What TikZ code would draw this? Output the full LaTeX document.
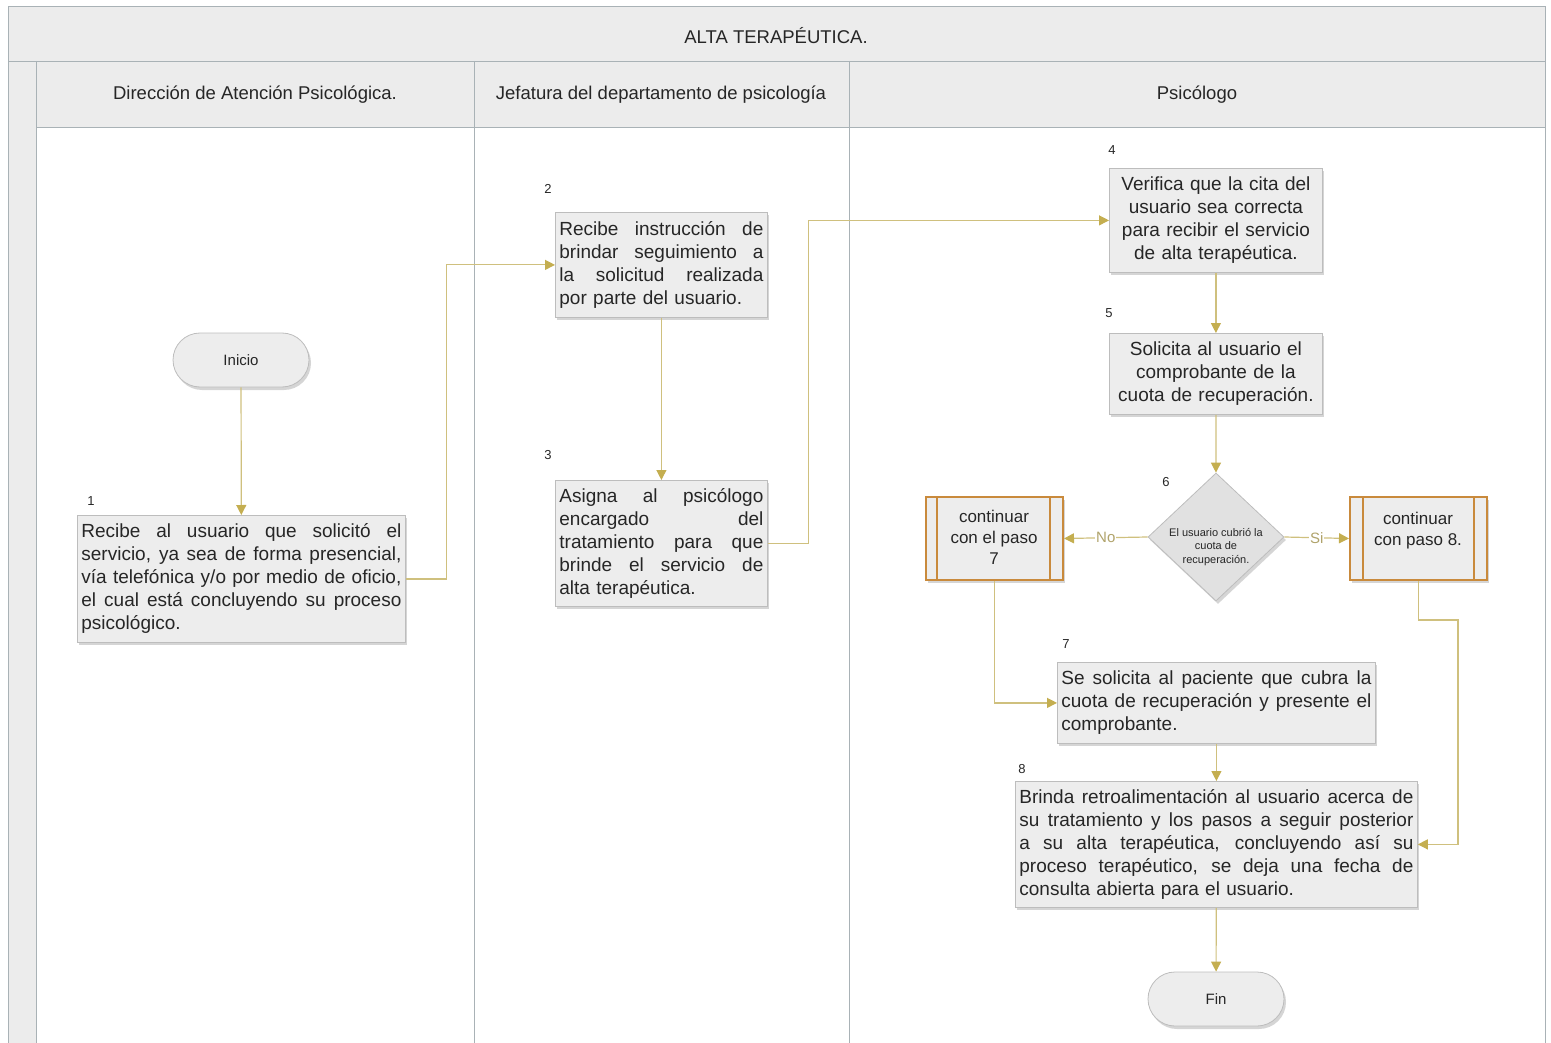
\documentclass[tikz,border=0pt]{standalone}
\usepackage{fontspec}
\setmainfont{Liberation Sans}
\usetikzlibrary{shapes.geometric,arrows.meta,shadows}
\definecolor{lnc}{HTML}{CFC07E}
\definecolor{tipc}{HTML}{C4AE50}
\definecolor{boxf}{HTML}{EDEDED}
\definecolor{boxd}{HTML}{BDBDBD}
\definecolor{hdrf}{HTML}{ECECEC}
\definecolor{laneln}{HTML}{A9B2B6}
\definecolor{orb}{HTML}{C98A3C}
\definecolor{txt}{HTML}{262626}
\newcommand\jl[1]{\makebox[\hsize][s]{\spaceskip=0pt\xspaceskip=0pt #1}\\}
\begin{document}
\begin{tikzpicture}[x=1pt,y=-1pt,
  shd/.style={drop shadow={shadow xshift=2pt,shadow yshift=-3pt,fill=black!30,opacity=.55}},
  box/.style={draw=boxd, fill=boxf, line width=0.8pt, shd, inner xsep=4pt, inner ysep=0pt,
    anchor=north west, text=txt, font=\fontsize{19}{23}\selectfont},
  jbox/.style={box, align=left},
  cbox/.style={box, align=center},
  term/.style={draw=boxd, fill=boxf, line width=0.8pt, rounded corners=27pt, minimum width=136pt,
    minimum height=54pt, shd, text=txt, font=\fontsize{15}{18}\selectfont},
  num/.style={font=\fontsize{13}{15}\selectfont, text=txt, inner sep=0pt},
  hdr/.style={font=\fontsize{18.5}{22}\selectfont, text=txt, inner sep=0pt},
  pbox/.style={draw=orb, fill=boxf, line width=2pt, minimum width=137pt, minimum height=83pt,
    anchor=north west, shd},
  ptxt/.style={align=center, text=txt, font=\fontsize{17}{21}\selectfont, inner sep=0pt},
  flow/.style={draw=lnc, line width=1.2pt, -{Triangle[length=10pt,width=10pt,color=tipc]}},
  lbl/.style={fill=white, text=lnc!85!black, font=\fontsize{15}{18}\selectfont, inner sep=1pt}
]
\useasboundingbox (0,0) rectangle (1551,1043);
% lanes background
\fill[hdrf] (8,6) rectangle (1545,61);
\fill[hdrf] (8,61) rectangle (36,1043);
\fill[hdrf] (36,61) rectangle (1545,127);
\draw[laneln, line width=0.8pt] (8,1043) -- (8,6) -- (1545,6) -- (1545,1043);
\draw[laneln, line width=0.8pt] (8,61) -- (1545,61);
\draw[laneln, line width=0.8pt] (36,127) -- (1545,127);
\draw[laneln, line width=0.8pt] (36,61) -- (36,1043);
\draw[laneln, line width=0.8pt] (474,61) -- (474,1043);
\draw[laneln, line width=0.8pt] (849,61) -- (849,1043);
\node[hdr] (title) at (776,36) {ALTA TERAPÉUTICA.};
\node[hdr, anchor=base] (h1) at (255,100) {Dirección de Atención Psicológica.};
\node[hdr, anchor=base] (h2) at (661,100) {Jefatura del departamento de psicología};
\node[hdr, anchor=base] (h3) at (1197,100) {Psicólogo};

% nodes
\node[term] (ini) at (241,360) {Inicio};
\node[jbox, text width=320pt, minimum height=127pt] (b1) at (77,515)
  {\jl{Recibe al usuario que solicitó el}\jl{servicio, ya sea de forma presencial,}\jl{vía telefónica y/o por medio de oficio,}\jl{el cual está concluyendo su proceso}psicológico.};
\node[jbox, text width=204pt, minimum height=105pt] (b2) at (555,212)
  {\jl{Recibe instrucción de}\jl{brindar seguimiento a}\jl{la solicitud realizada}por parte del usuario.};
\node[jbox, text width=204pt, minimum height=126pt] (b3) at (555,480)
  {\jl{Asigna al psicólogo}\jl{encargado del}\jl{tratamiento para que}\jl{brinde el servicio de}alta terapéutica.};
\node[cbox, text width=205pt, minimum height=104pt] (b4) at (1109,168)
  {Verifica que la cita del\\usuario sea correcta\\para recibir el servicio\\de alta terapéutica.};
\node[cbox, text width=205pt, minimum height=81pt] (b5) at (1109,333)
  {Solicita al usuario el\\comprobante de la\\cuota de recuperación.};
\node[diamond, draw=boxd, fill=boxf!95!black, line width=0.8pt, shd, minimum width=136pt,
  minimum height=128pt, inner sep=0pt] (d6) at (1216,537) {};
\node[align=center, font=\fontsize{11}{13.5}\selectfont, text=txt, inner sep=0pt] (d6t) at (1216,547)
  {El usuario cubrió la\\cuota de\\recuperación.};
\node[pbox] (p7) at (925,496) {};
\node[pbox] (p8) at (1349,496) {};
\draw[orb, line width=1.6pt] ([xshift=12pt]p7.north west) -- ([xshift=12pt]p7.south west);
\draw[orb, line width=1.6pt] ([xshift=-14pt]p7.north east) -- ([xshift=-14pt]p7.south east);
\draw[orb, line width=1.6pt] ([xshift=14pt]p8.north west) -- ([xshift=14pt]p8.south west);
\draw[orb, line width=1.6pt] ([xshift=-14pt]p8.north east) -- ([xshift=-14pt]p8.south east);
\node[ptxt] (p7t) at (994,537) {continuar\\con el paso\\7};
\node[ptxt] (p8t) at (1418,531) {continuar\\con paso 8.};
\node[jbox, text width=310pt, minimum height=81pt] (b7) at (1057,662)
  {\jl{Se solicita al paciente que cubra la}\jl{cuota de recuperación y presente el}comprobante.};
\node[jbox, text width=394pt, minimum height=126pt] (b8) at (1015,781)
  {\jl{Brinda retroalimentación al usuario acerca de}\jl{su tratamiento y los pasos a seguir posterior}\jl{a su alta terapéutica, concluyendo así su}\jl{proceso terapéutico, se deja una fecha de}consulta abierta para el usuario.};
\node[term] (fin) at (1216,999) {Fin};

% step numbers
\node[num] (n1) at (91,501) {1};
\node[num] (n2) at (548,189) {2};
\node[num] (n3) at (548,455) {3};
\node[num] (n4) at (1112,150) {4};
\node[num] (n5) at (1109,313) {5};
\node[num] (n6) at (1166,482) {6};
\node[num] (n7) at (1066,644) {7};
\node[num] (n8) at (1022,769) {8};

% connectors
\coordinate (c8) at (1458,620);
\draw[flow] (ini) -- (b1);
\draw[flow] (b1.east) -- ++(41,0) |- (b2.west);
\draw[flow] (b2) -- (b3);
\draw[flow] (b3.east) -- ++(41,0) |- (b4.west);
\draw[flow] (b4) -- (b5);
\draw[flow] (b5) -- (d6);
\draw[flow] (d6.west) -- node[lbl] (lno) {No} (p7.east);
\draw[flow] (d6.east) -- node[lbl] (lsi) {Si} (p8.west);
\draw[flow] (p7.south) |- (b7.west);
\draw[flow] (b7) -- (b8);
\draw[flow] (p8.south) |- (c8) |- (b8.east);
\draw[flow] (b8) -- (fin);
\end{tikzpicture}
\end{document}
